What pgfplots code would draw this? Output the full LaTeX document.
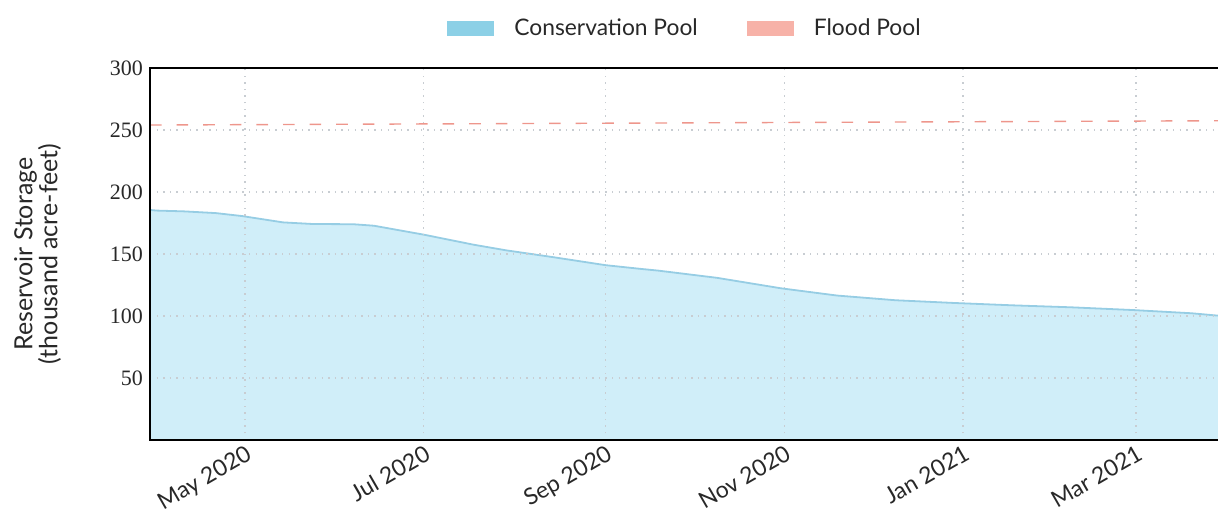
\documentclass[border=0pt]{standalone}
\usepackage{fontspec}
\setmainfont{Lato}
\newfontfamily\numfont{Liberation Serif}
\usepackage{pgfplots}
\pgfplotsset{compat=1.18}
\definecolor{fillblue}{RGB}{208,238,249}
\definecolor{lineblue}{RGB}{150,205,228}
\definecolor{legblue}{RGB}{140,208,230}
\definecolor{legsalmon}{RGB}{247,178,168}
\definecolor{floodline}{RGB}{238,150,140}
\definecolor{gridgray}{RGB}{200,205,210}
\definecolor{txt}{RGB}{40,40,40}
\pgfplotstableread{
day val
-2.4 185.5
0 185
9 184.4
20 183
29 180.6
43 175.5
53 174.2
67 174
74 172.8
91 165.6
108 157.5
119 153
135 147.5
153 141
165 138
171 136.6
191 130.8
213 122.3
232 116.5
252 112.7
272 110.5
292 108.6
312 107
333 104.8
353 102.2
361 100.5
366.1 99.5
}\conservation
\pgfplotstableread{
day val
-2.4 254
366.1 257.5
}\flood
\begin{document}
\begin{tikzpicture}
\useasboundingbox (-75pt,-36pt) rectangle (534pt,220pt);
\begin{axis}[
  at={(0pt,0pt)}, anchor=south west,
  scale only axis, width=540pt, height=186pt,
  xmin=-2.4, xmax=366.1, ymin=0, ymax=300,
  axis on top,
  axis line style={black, line width=1pt},
  major tick length=0pt,
  xtick={30,91,153,214,275,334},
  xticklabels={May 2020,Jul 2020,Sep 2020,Nov 2020,Jan 2021,Mar 2021},
  ytick={50,100,150,200,250,300},
  /pgf/number format/assume math mode=true,
  yticklabel style={font=\numfont\fontsize{11}{13}\selectfont, text=txt},
  xticklabel style={font=\fontsize{11.5}{13}\selectfont, text=txt, rotate=30, anchor=north east, inner sep=1pt, yshift=-0.5pt},
  grid=major,
  major grid style={gridgray, line width=0.6pt, dash pattern=on 0.7pt off 2.6pt},
  ylabel={Reservoir Storage\\(thousand acre-feet)},
  every axis y label/.style={at={(axis description cs:-0.104,0.5)}, rotate=90, anchor=center,
    align=center, font=\fontsize{12.5}{12.5}\selectfont, text=txt},
  legend style={at={(axis description cs:0.4963,1.105)}, anchor=center, draw=none, fill=none,
    font=\fontsize{11.4}{12}\selectfont, text=txt,
    /tikz/every even column/.append style={column sep=22.5pt},
    /tikz/every odd column/.append style={column sep=8pt}},
  legend columns=2,
]
\addplot[fill=fillblue, draw=none,
  legend image code/.code={\fill[legblue, draw=none, solid] (0pt,-3.75pt) rectangle (23.5pt,3.75pt);}]
  table[x=day,y=val]{\conservation} \closedcycle;
\addlegendentry{Conservation Pool}
\addplot[floodline, line width=0.7pt, dash pattern=on 5.8pt off 7.5pt,
  legend image code/.code={\path[fill=legsalmon, draw=none, solid] (0pt,-3.75pt) rectangle (23.5pt,3.75pt);}]
  table[x=day,y=val]{\flood};
\addlegendentry{Flood Pool}
\addplot[lineblue, line width=0.9pt, forget plot] table[x=day,y=val]{\conservation};
\end{axis}
\end{tikzpicture}
\end{document}
